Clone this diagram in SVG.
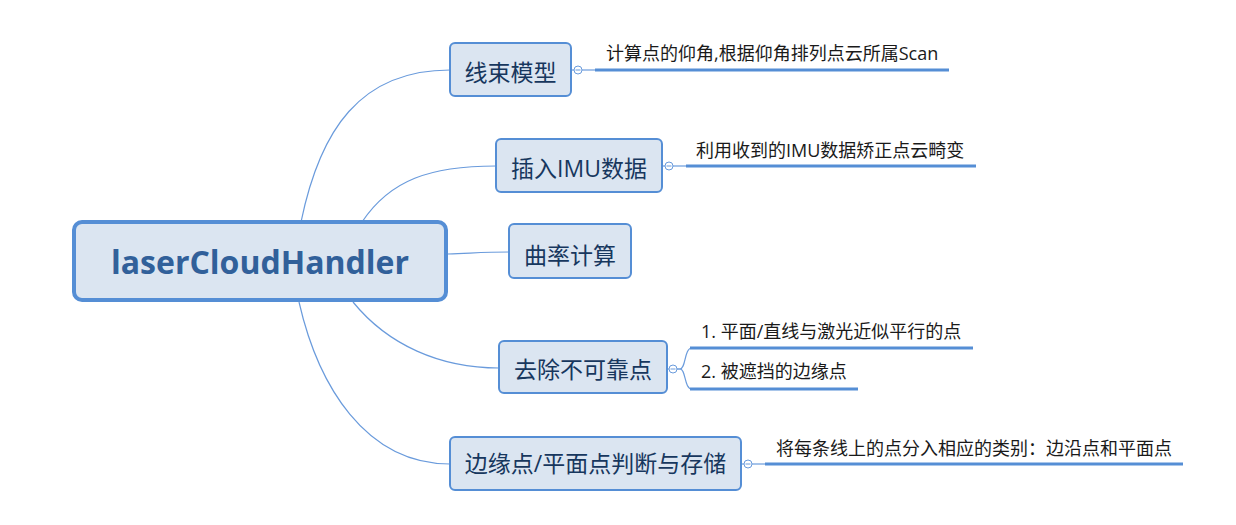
<svg xmlns="http://www.w3.org/2000/svg" width="1236" height="525" viewBox="0 0 1236 525">
<style>
.bg{fill:#ffffff}
.node rect{fill:#dbe5f1;stroke:#558ed5;stroke-width:2}
.root rect{fill:#dbe5f1;stroke:#558ed5;stroke-width:4}
.nt{font-family:"Open Sans","Noto Sans CJK SC",sans-serif;font-size:23px;fill:#17375e;text-anchor:middle}
.rt{font-family:"Open Sans","Noto Sans CJK SC",sans-serif;font-size:32px;font-weight:bold;fill:#31609a;text-anchor:middle}
.lb{font-family:"Open Sans","Noto Sans CJK SC",sans-serif;font-size:18px;fill:#1a1a1a}
.conn{fill:none;stroke:#6a9bdc;stroke-width:1.2}
.thick{fill:none;stroke:#558ed5;stroke-width:3}
.col circle{fill:#ffffff;stroke:#6a9bdc;stroke-width:1}
.col line{stroke:#6a9bdc;stroke-width:1}
</style>
<rect class="bg" x="0" y="0" width="1236" height="525"/>
<g id="connectors">
<path class="conn" d="M301,222 C320,130 360,70 450,70"/>
<path class="conn" d="M362,222 C390,180 430,166 496,166"/>
<path class="conn" d="M448,254 C475,253 485,252 509,252"/>
<path class="conn" d="M353,302 C388,345 440,368 499,368"/>
<path class="conn" d="M299,302 C318,385 365,464 450,464"/>
<line class="conn" x1="571" y1="70" x2="574" y2="70"/>
<line class="conn" x1="582" y1="70" x2="595" y2="70"/>
<line class="thick" x1="595" y1="70" x2="949" y2="70"/>
<line class="conn" x1="662" y1="166" x2="665" y2="166"/>
<line class="conn" x1="673" y1="166" x2="686" y2="166"/>
<line class="thick" x1="686" y1="166" x2="976" y2="166"/>
<line class="conn" x1="667" y1="369" x2="669" y2="369"/>
<path class="conn" d="M677,369 H680 C686,369 684,348 692,348"/>
<path class="conn" d="M677,369 H680 C686,369 684,389 692,389"/>
<line class="thick" x1="690" y1="348" x2="973" y2="348"/>
<line class="thick" x1="690" y1="389" x2="858" y2="389"/>
<line class="conn" x1="741" y1="464" x2="744" y2="464"/>
<line class="conn" x1="752" y1="464" x2="765" y2="464"/>
<line class="thick" x1="765" y1="464" x2="1183" y2="464"/>
</g>
<g id="root" class="root">
<rect x="74" y="222" width="372" height="78" rx="8"/>
<text class="rt" x="260" y="274">laserCloudHandler</text>
</g>
<g id="n1" class="node">
<rect x="450" y="43" width="121" height="53" rx="5"/>
<text class="nt" x="510.5" y="81">线束模型</text>
</g>
<g id="n1c" class="col"><circle cx="578" cy="70" r="4"/><line x1="575.5" y1="70" x2="580.5" y2="70"/></g>
<g id="l1"><text class="lb" x="606" y="60">计算点的仰角,根据仰角排列点云所属Scan</text></g>
<g id="n2" class="node">
<rect x="496" y="139" width="166" height="53" rx="5"/>
<text class="nt" x="579" y="176.5">插入IMU数据</text>
</g>
<g id="n2c" class="col"><circle cx="669" cy="166" r="4"/><line x1="666.5" y1="166" x2="671.5" y2="166"/></g>
<g id="l2"><text class="lb" x="696" y="157">利用收到的IMU数据矫正点云畸变</text></g>
<g id="n3" class="node">
<rect x="509" y="224" width="122" height="54" rx="5"/>
<text class="nt" x="570" y="263.5">曲率计算</text>
</g>
<g id="n4" class="node">
<rect x="499" y="341" width="168" height="52" rx="5"/>
<text class="nt" x="583" y="378">去除不可靠点</text>
</g>
<g id="n4c" class="col"><circle cx="673" cy="369" r="4"/><line x1="670.5" y1="369" x2="675.5" y2="369"/></g>
<g id="l4a"><text class="lb" x="701" y="338">1. 平面/直线与激光近似平行的点</text></g>
<g id="l4b"><text class="lb" x="701" y="378">2. 被遮挡的边缘点</text></g>
<g id="n5" class="node">
<rect x="450" y="437" width="291" height="53" rx="5"/>
<text class="nt" x="595.5" y="472">边缘点/平面点判断与存储</text>
</g>
<g id="n5c" class="col"><circle cx="748" cy="464" r="4"/><line x1="745.5" y1="464" x2="750.5" y2="464"/></g>
<g id="l5"><text class="lb" x="776" y="455">将每条线上的点分入相应的类别：边沿点和平面点</text></g>
</svg>
